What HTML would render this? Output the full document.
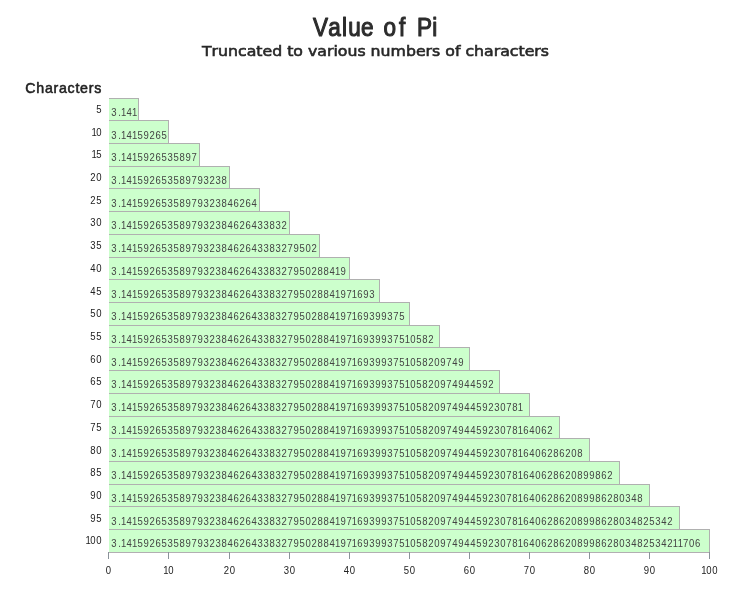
<!DOCTYPE html>
<html lang="en"><head><meta charset="utf-8"><title>Value of Pi</title>
<style>
html,body{margin:0;padding:0;background:#fff;}
body{width:750px;height:600px;overflow:hidden;}
svg{display:block}
text{white-space:pre}
.t{font-family:"Liberation Sans",sans-serif;font-size:25px;fill:#2c2c2c;stroke:#2c2c2c;stroke-width:1.1px;stroke-linecap:round;stroke-linejoin:round}
.s{font-family:"DejaVu Sans","Liberation Sans",sans-serif;font-size:14.6px;fill:#282828;stroke:#282828;stroke-width:0.6px;font-kerning:none}
.c{font-family:"Liberation Sans",sans-serif;font-size:14.2px;fill:#222;stroke:#222;stroke-width:0.55px;stroke-linejoin:round}
.a,.d{font-family:"Liberation Sans",sans-serif;font-size:10.6px;letter-spacing:0.763px;font-kerning:none}
.a{fill:#222}
.d{fill:#444}
</style></head><body>
<svg width="750" height="600" viewBox="0 0 750 600">
<rect width="750" height="600" fill="#fff"/>
<g transform="scale(0.9,1)"><text class="t" text-anchor="middle" y="35.6" x="356.2 371.7 382.9 393.8 408.0 420.0 433.0 446.7 458.9 471.8 483.1">Value of Pi</text></g>
<text class="s" x="202" y="56.4" textLength="347" lengthAdjust="spacingAndGlyphs">Truncated to various numbers of characters</text>
<text class="c" y="92.5" x="25.3" textLength="76" lengthAdjust="spacing">Characters</text>

<rect x="109" y="98" width="30" height="23" fill="#b0b0b0"/>
<rect x="109" y="99" width="29" height="21" fill="#ccffcc"/>
<rect x="109" y="120" width="60" height="24" fill="#b0b0b0"/>
<rect x="109" y="121" width="59" height="22" fill="#ccffcc"/>
<rect x="109" y="143" width="91" height="24" fill="#b0b0b0"/>
<rect x="109" y="144" width="90" height="22" fill="#ccffcc"/>
<rect x="109" y="166" width="121" height="23" fill="#b0b0b0"/>
<rect x="109" y="167" width="120" height="21" fill="#ccffcc"/>
<rect x="109" y="188" width="151" height="24" fill="#b0b0b0"/>
<rect x="109" y="189" width="150" height="22" fill="#ccffcc"/>
<rect x="109" y="211" width="181" height="24" fill="#b0b0b0"/>
<rect x="109" y="212" width="180" height="22" fill="#ccffcc"/>
<rect x="109" y="234" width="211" height="24" fill="#b0b0b0"/>
<rect x="109" y="235" width="210" height="22" fill="#ccffcc"/>
<rect x="109" y="257" width="241" height="23" fill="#b0b0b0"/>
<rect x="109" y="258" width="240" height="21" fill="#ccffcc"/>
<rect x="109" y="279" width="271" height="24" fill="#b0b0b0"/>
<rect x="109" y="280" width="270" height="22" fill="#ccffcc"/>
<rect x="109" y="302" width="301" height="24" fill="#b0b0b0"/>
<rect x="109" y="303" width="300" height="22" fill="#ccffcc"/>
<rect x="109" y="325" width="331" height="23" fill="#b0b0b0"/>
<rect x="109" y="326" width="330" height="21" fill="#ccffcc"/>
<rect x="109" y="347" width="361" height="24" fill="#b0b0b0"/>
<rect x="109" y="348" width="360" height="22" fill="#ccffcc"/>
<rect x="109" y="370" width="391" height="24" fill="#b0b0b0"/>
<rect x="109" y="371" width="390" height="22" fill="#ccffcc"/>
<rect x="109" y="393" width="421" height="24" fill="#b0b0b0"/>
<rect x="109" y="394" width="420" height="22" fill="#ccffcc"/>
<rect x="109" y="416" width="451" height="23" fill="#b0b0b0"/>
<rect x="109" y="417" width="450" height="21" fill="#ccffcc"/>
<rect x="109" y="438" width="481" height="24" fill="#b0b0b0"/>
<rect x="109" y="439" width="480" height="22" fill="#ccffcc"/>
<rect x="109" y="461" width="511" height="24" fill="#b0b0b0"/>
<rect x="109" y="462" width="510" height="22" fill="#ccffcc"/>
<rect x="109" y="484" width="541" height="23" fill="#b0b0b0"/>
<rect x="109" y="485" width="540" height="21" fill="#ccffcc"/>
<rect x="109" y="506" width="571" height="24" fill="#b0b0b0"/>
<rect x="109" y="507" width="570" height="22" fill="#ccffcc"/>
<rect x="109" y="529" width="601" height="24" fill="#b0b0b0"/>
<rect x="109" y="530" width="600" height="22" fill="#ccffcc"/>
<g transform="scale(0.9,1)">
<text class="a" x="107.01" y="113.0" dx="0">5</text>
<text class="d" x="123.67" y="115.7" dx="0 1.11 -0.67 -0.6 -0.6">3.141</text>
<text class="a" x="101.54" y="136.0" dx="0 -1.19">10</text>
<text class="d" x="123.67" y="138.7" dx="0 1.11 -0.67 -0.6 -0.6 -0.6 0 0 0 0">3.14159265</text>
<text class="a" x="101.54" y="158.0" dx="0 -1.19">15</text>
<text class="d" x="123.67" y="160.7" dx="0 1.11 -0.67 -0.6 -0.6 -0.6 0 0 0 0 0 0 0 0 0">3.1415926535897</text>
<text class="a" x="100.35" y="181.0" dx="0 0">20</text>
<text class="d" x="123.67" y="183.7" dx="0 1.11 -0.67 -0.6 -0.6 -0.6 0 0 0 0 0 0 0 0 0 0 0 0 0 0">3.141592653589793238</text>
<text class="a" x="100.35" y="204.0" dx="0 0">25</text>
<text class="d" x="123.67" y="206.7" dx="0 1.11 -0.67 -0.6 -0.6 -0.6 0 0 0 0 0 0 0 0 0 0 0 0 0 0 0 0 0 0 0">3.14159265358979323846264</text>
<text class="a" x="100.35" y="226.0" dx="0 0">30</text>
<text class="d" x="123.67" y="228.7" dx="0 1.11 -0.67 -0.6 -0.6 -0.6 0 0 0 0 0 0 0 0 0 0 0 0 0 0 0 0 0 0 0 0 0 0 0 0">3.1415926535897932384626433832</text>
<text class="a" x="100.35" y="249.0" dx="0 0">35</text>
<text class="d" x="123.67" y="251.7" dx="0 1.11 -0.67 -0.6 -0.6 -0.6 0 0 0 0 0 0 0 0 0 0 0 0 0 0 0 0 0 0 0 0 0 0 0 0 0 0 0 0 0">3.141592653589793238462643383279502</text>
<text class="a" x="100.35" y="272.0" dx="0 0">40</text>
<text class="d" x="123.67" y="274.7" dx="0 1.11 -0.67 -0.6 -0.6 -0.6 0 0 0 0 0 0 0 0 0 0 0 0 0 0 0 0 0 0 0 0 0 0 0 0 0 0 0 0 0 0 0 0 -0.6 -0.6">3.14159265358979323846264338327950288419</text>
<text class="a" x="100.35" y="295.0" dx="0 0">45</text>
<text class="d" x="123.67" y="297.7" dx="0 1.11 -0.67 -0.6 -0.6 -0.6 0 0 0 0 0 0 0 0 0 0 0 0 0 0 0 0 0 0 0 0 0 0 0 0 0 0 0 0 0 0 0 0 -0.6 -0.6 0 -0.6 -0.6 0 0">3.1415926535897932384626433832795028841971693</text>
<text class="a" x="100.35" y="317.0" dx="0 0">50</text>
<text class="d" x="123.67" y="319.7" dx="0 1.11 -0.67 -0.6 -0.6 -0.6 0 0 0 0 0 0 0 0 0 0 0 0 0 0 0 0 0 0 0 0 0 0 0 0 0 0 0 0 0 0 0 0 -0.6 -0.6 0 -0.6 -0.6 0 0 0 0 0 0 0">3.141592653589793238462643383279502884197169399375</text>
<text class="a" x="100.35" y="340.0" dx="0 0">55</text>
<text class="d" x="123.67" y="342.7" dx="0 1.11 -0.67 -0.6 -0.6 -0.6 0 0 0 0 0 0 0 0 0 0 0 0 0 0 0 0 0 0 0 0 0 0 0 0 0 0 0 0 0 0 0 0 -0.6 -0.6 0 -0.6 -0.6 0 0 0 0 0 0 0 -0.6 -0.6 0 0 0">3.14159265358979323846264338327950288419716939937510582</text>
<text class="a" x="100.35" y="363.0" dx="0 0">60</text>
<text class="d" x="123.67" y="365.7" dx="0 1.11 -0.67 -0.6 -0.6 -0.6 0 0 0 0 0 0 0 0 0 0 0 0 0 0 0 0 0 0 0 0 0 0 0 0 0 0 0 0 0 0 0 0 -0.6 -0.6 0 -0.6 -0.6 0 0 0 0 0 0 0 -0.6 -0.6 0 0 0 0 0 0 0 0">3.1415926535897932384626433832795028841971693993751058209749</text>
<text class="a" x="100.35" y="385.0" dx="0 0">65</text>
<text class="d" x="123.67" y="387.7" dx="0 1.11 -0.67 -0.6 -0.6 -0.6 0 0 0 0 0 0 0 0 0 0 0 0 0 0 0 0 0 0 0 0 0 0 0 0 0 0 0 0 0 0 0 0 -0.6 -0.6 0 -0.6 -0.6 0 0 0 0 0 0 0 -0.6 -0.6 0 0 0 0 0 0 0 0 0 0 0 0 0">3.141592653589793238462643383279502884197169399375105820974944592</text>
<text class="a" x="100.35" y="408.0" dx="0 0">70</text>
<text class="d" x="123.67" y="410.7" dx="0 1.11 -0.67 -0.6 -0.6 -0.6 0 0 0 0 0 0 0 0 0 0 0 0 0 0 0 0 0 0 0 0 0 0 0 0 0 0 0 0 0 0 0 0 -0.6 -0.6 0 -0.6 -0.6 0 0 0 0 0 0 0 -0.6 -0.6 0 0 0 0 0 0 0 0 0 0 0 0 0 0 0 0 0 -0.6">3.14159265358979323846264338327950288419716939937510582097494459230781</text>
<text class="a" x="100.35" y="431.0" dx="0 0">75</text>
<text class="d" x="123.67" y="433.7" dx="0 1.11 -0.67 -0.6 -0.6 -0.6 0 0 0 0 0 0 0 0 0 0 0 0 0 0 0 0 0 0 0 0 0 0 0 0 0 0 0 0 0 0 0 0 -0.6 -0.6 0 -0.6 -0.6 0 0 0 0 0 0 0 -0.6 -0.6 0 0 0 0 0 0 0 0 0 0 0 0 0 0 0 0 0 -0.6 -0.6 0 0 0 0">3.1415926535897932384626433832795028841971693993751058209749445923078164062</text>
<text class="a" x="100.35" y="454.0" dx="0 0">80</text>
<text class="d" x="123.67" y="456.7" dx="0 1.11 -0.67 -0.6 -0.6 -0.6 0 0 0 0 0 0 0 0 0 0 0 0 0 0 0 0 0 0 0 0 0 0 0 0 0 0 0 0 0 0 0 0 -0.6 -0.6 0 -0.6 -0.6 0 0 0 0 0 0 0 -0.6 -0.6 0 0 0 0 0 0 0 0 0 0 0 0 0 0 0 0 0 -0.6 -0.6 0 0 0 0 0 0 0 0 0">3.141592653589793238462643383279502884197169399375105820974944592307816406286208</text>
<text class="a" x="100.35" y="476.0" dx="0 0">85</text>
<text class="d" x="123.67" y="478.7" dx="0 1.11 -0.67 -0.6 -0.6 -0.6 0 0 0 0 0 0 0 0 0 0 0 0 0 0 0 0 0 0 0 0 0 0 0 0 0 0 0 0 0 0 0 0 -0.6 -0.6 0 -0.6 -0.6 0 0 0 0 0 0 0 -0.6 -0.6 0 0 0 0 0 0 0 0 0 0 0 0 0 0 0 0 0 -0.6 -0.6 0 0 0 0 0 0 0 0 0 0 0 0 0 0">3.14159265358979323846264338327950288419716939937510582097494459230781640628620899862</text>
<text class="a" x="100.35" y="499.0" dx="0 0">90</text>
<text class="d" x="123.67" y="501.7" dx="0 1.11 -0.67 -0.6 -0.6 -0.6 0 0 0 0 0 0 0 0 0 0 0 0 0 0 0 0 0 0 0 0 0 0 0 0 0 0 0 0 0 0 0 0 -0.6 -0.6 0 -0.6 -0.6 0 0 0 0 0 0 0 -0.6 -0.6 0 0 0 0 0 0 0 0 0 0 0 0 0 0 0 0 0 -0.6 -0.6 0 0 0 0 0 0 0 0 0 0 0 0 0 0 0 0 0 0 0">3.1415926535897932384626433832795028841971693993751058209749445923078164062862089986280348</text>
<text class="a" x="100.35" y="522.0" dx="0 0">95</text>
<text class="d" x="123.67" y="524.7" dx="0 1.11 -0.67 -0.6 -0.6 -0.6 0 0 0 0 0 0 0 0 0 0 0 0 0 0 0 0 0 0 0 0 0 0 0 0 0 0 0 0 0 0 0 0 -0.6 -0.6 0 -0.6 -0.6 0 0 0 0 0 0 0 -0.6 -0.6 0 0 0 0 0 0 0 0 0 0 0 0 0 0 0 0 0 -0.6 -0.6 0 0 0 0 0 0 0 0 0 0 0 0 0 0 0 0 0 0 0 0 0 0 0 0">3.141592653589793238462643383279502884197169399375105820974944592307816406286208998628034825342</text>
<text class="a" x="94.88" y="544.0" dx="0 -1.19 0">100</text>
<text class="d" x="123.67" y="546.7" dx="0 1.11 -0.67 -0.6 -0.6 -0.6 0 0 0 0 0 0 0 0 0 0 0 0 0 0 0 0 0 0 0 0 0 0 0 0 0 0 0 0 0 0 0 0 -0.6 -0.6 0 -0.6 -0.6 0 0 0 0 0 0 0 -0.6 -0.6 0 0 0 0 0 0 0 0 0 0 0 0 0 0 0 0 0 -0.6 -0.6 0 0 0 0 0 0 0 0 0 0 0 0 0 0 0 0 0 0 0 0 0 0 0 0 -0.6 -1.19 -0.6 0 0">3.14159265358979323846264338327950288419716939937510582097494459230781640628620899862803482534211706</text>
<text class="a" x="117.56" y="573.8" dx="0">0</text>
<text class="a" x="181.49" y="573.8" dx="0 -1.19">10</text>
<text class="a" x="248.67" y="573.8" dx="0 0">20</text>
<text class="a" x="315.34" y="573.8" dx="0 0">30</text>
<text class="a" x="382.01" y="573.8" dx="0 0">40</text>
<text class="a" x="448.67" y="573.8" dx="0 0">50</text>
<text class="a" x="515.34" y="573.8" dx="0 0">60</text>
<text class="a" x="582.01" y="573.8" dx="0 0">70</text>
<text class="a" x="648.67" y="573.8" dx="0 0">80</text>
<text class="a" x="715.34" y="573.8" dx="0 0">90</text>
<text class="a" x="779.27" y="573.8" dx="0 -1.19 0">100</text>
</g>
<rect x="108" y="552" width="602" height="1" fill="#b2aeb2"/>
<rect x="108" y="552" width="1" height="7" fill="#8a9299"/>
<rect x="168" y="552" width="1" height="7" fill="#8a9299"/>
<rect x="229" y="552" width="1" height="7" fill="#8a9299"/>
<rect x="289" y="552" width="1" height="7" fill="#8a9299"/>
<rect x="349" y="552" width="1" height="7" fill="#8a9299"/>
<rect x="409" y="552" width="1" height="7" fill="#8a9299"/>
<rect x="469" y="552" width="1" height="7" fill="#8a9299"/>
<rect x="529" y="552" width="1" height="7" fill="#8a9299"/>
<rect x="589" y="552" width="1" height="7" fill="#8a9299"/>
<rect x="649" y="552" width="1" height="7" fill="#8a9299"/>
<rect x="709" y="552" width="1" height="7" fill="#8a9299"/>
</svg></body></html>
